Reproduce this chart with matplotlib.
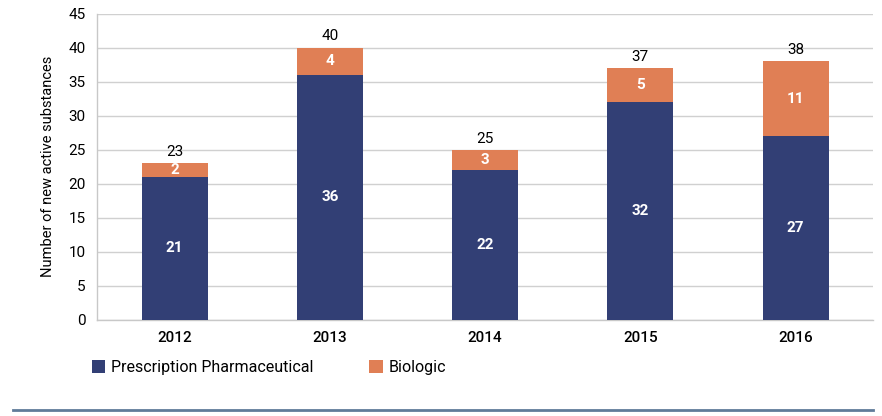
import matplotlib

matplotlib.use("Agg")
import matplotlib.pyplot as plt
from matplotlib.lines import Line2D

years = ["2012", "2013", "2014", "2015", "2016"]
pharma = [21, 36, 22, 32, 27]
biologic = [2, 4, 3, 5, 11]
totals = [23, 40, 25, 37, 38]

NAVY = "#323f75"
ORANGE = "#e07f55"

plt.rcParams["font.family"] = ["Roboto", "DejaVu Sans"]

fig = plt.figure(figsize=(8.82, 4.16), dpi=100)
ax = fig.add_axes([0.110, 0.2308, 0.880, 0.7367])

x = range(len(years))
width = 0.425
b1 = ax.bar(x, pharma, width, color=NAVY, label="Prescription Pharmaceutical", zorder=3)
b2 = ax.bar(x, biologic, width, bottom=pharma, color=ORANGE, label="Biologic", zorder=3)

for i in x:
    ax.text(i, pharma[i] / 2, str(pharma[i]), ha="center", va="center",
            color="white", fontsize=11, fontweight="bold", zorder=4)
    ax.text(i, pharma[i] + biologic[i] / 2, str(biologic[i]), ha="center", va="center",
            color="white", fontsize=11, fontweight="bold", zorder=4)
    ax.text(i, totals[i] + 0.6, str(totals[i]), ha="center", va="bottom",
            color="black", fontsize=11, zorder=4)

ax.set_ylim(0, 45)
ax.set_yticks(range(0, 46, 5))
ax.set_xlim(-0.5, len(years) - 0.5)
ax.set_xticks(list(x))
ax.set_xticklabels(years, fontsize=11, fontweight="medium")
ax.tick_params(axis="y", labelsize=11, length=0, pad=8)
ax.tick_params(axis="x", length=0, pad=8)
ax.yaxis.grid(True, color="#d0d0d0", linewidth=1, zorder=0)
for s in ["top", "right"]:
    ax.spines[s].set_visible(False)
for s in ["left", "bottom"]:
    ax.spines[s].set_color("#c8c8c8")
    ax.spines[s].set_linewidth(1)
ax.set_ylabel("Number of new active substances", fontsize=10.5, labelpad=10)

fig.legend(handles=[b1, b2], loc="upper left", bbox_to_anchor=(0.104, 0.135),
           ncol=2, frameon=False, fontsize=11.5, handlelength=0.85, handleheight=0.85,
           handletextpad=0.35, columnspacing=3.5, borderaxespad=0, borderpad=0)

fig.add_artist(Line2D([0.015, 0.99], [0.0145, 0.0145], color="#5f7b99", linewidth=2))

fig.savefig("out.png", dpi=100)
